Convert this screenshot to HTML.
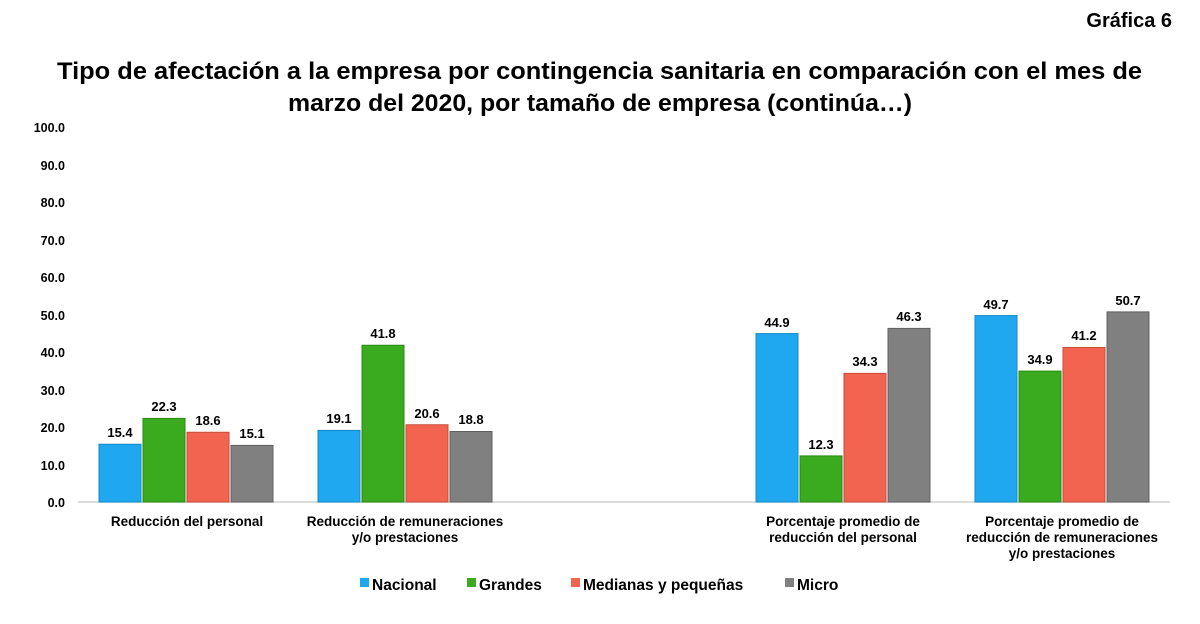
<!DOCTYPE html>
<html><head><meta charset="utf-8"><style>
body{margin:0;background:#fff;}
svg text{font-family:"Liberation Sans",Arial,sans-serif;font-weight:bold;fill:#000;}
.n{fill:#1fa8f0;stroke:#1488c8}.g{fill:#3aaa1e;stroke:#2a8a12}.m{fill:#f26450;stroke:#c84a38}.c{fill:#808080;stroke:#606060}
</style></head><body>
<svg width="1200" height="619" xmlns="http://www.w3.org/2000/svg">
<text x="1172" y="27" font-size="20" text-anchor="end">Gráfica 6</text>
<text x="57" y="79" font-size="24" textLength="1085" lengthAdjust="spacingAndGlyphs">Tipo de afectación a la empresa por contingencia sanitaria en comparación con el mes de</text>
<text x="288" y="111" font-size="24" textLength="624" lengthAdjust="spacingAndGlyphs">marzo del 2020, por tamaño de empresa (continúa…)</text>
<g font-size="12.5" text-anchor="end">
<text x="65" y="132">100.0</text><text x="65" y="170">90.0</text><text x="65" y="207">80.0</text>
<text x="65" y="245">70.0</text><text x="65" y="282">60.0</text><text x="65" y="320">50.0</text>
<text x="65" y="357">40.0</text><text x="65" y="395">30.0</text><text x="65" y="432">20.0</text>
<text x="65" y="470">10.0</text><text x="65" y="507">0.0</text>
</g>
<line x1="78" y1="502" x2="1170" y2="502" stroke="#d0d0d0" stroke-width="1.5"/>
<g stroke-width="1">
<rect class="n" x="99" y="444.25" width="42" height="57.75"/>
<rect class="g" x="143" y="418.4" width="42" height="83.6"/>
<rect class="m" x="187" y="432.25" width="42" height="69.75"/>
<rect class="c" x="231" y="445.4" width="42" height="56.6"/>
<rect class="n" x="318" y="430.4" width="42" height="71.6"/>
<rect class="g" x="362" y="345.25" width="42" height="156.75"/>
<rect class="m" x="406" y="424.75" width="42" height="77.25"/>
<rect class="c" x="450" y="431.5" width="42" height="70.5"/>
<rect class="n" x="756" y="333.6" width="42" height="168.4"/>
<rect class="g" x="800" y="455.9" width="42" height="46.1"/>
<rect class="m" x="844" y="373.4" width="42" height="128.6"/>
<rect class="c" x="888" y="328.4" width="42" height="173.6"/>
<rect class="n" x="975" y="315.6" width="42" height="186.4"/>
<rect class="g" x="1019" y="371.1" width="42" height="130.9"/>
<rect class="m" x="1063" y="347.5" width="42" height="154.5"/>
<rect class="c" x="1107" y="311.9" width="42" height="190.1"/>
</g>
<g font-size="13" text-anchor="middle">
<text x="120" y="437">15.4</text><text x="164" y="411">22.3</text><text x="208" y="425">18.6</text><text x="252" y="438">15.1</text>
<text x="339" y="423">19.1</text><text x="383" y="338">41.8</text><text x="427" y="418">20.6</text><text x="471" y="424">18.8</text>
<text x="777" y="327">44.9</text><text x="821" y="449">12.3</text><text x="865" y="366">34.3</text><text x="909" y="321">46.3</text>
<text x="996" y="309">49.7</text><text x="1040" y="364">34.9</text><text x="1084" y="340">41.2</text><text x="1128" y="305">50.7</text>
</g>
<g font-size="13.5" text-anchor="middle">
<text x="187" y="526">Reducción del personal</text>
<text x="405" y="526">Reducción de remuneraciones</text><text x="405" y="542">y/o prestaciones</text>
<text x="843" y="526">Porcentaje promedio de</text><text x="843" y="542">reducción del personal</text>
<text x="1062" y="526">Porcentaje promedio de</text><text x="1062" y="542">reducción de remuneraciones</text><text x="1062" y="558">y/o prestaciones</text>
</g>
<g font-size="15.5">
<rect x="360" y="578" width="9" height="9" fill="#1fa8f0"/><text x="372" y="590">Nacional</text>
<rect x="467" y="578" width="9" height="9" fill="#3aaa1e"/><text x="479" y="590">Grandes</text>
<rect x="571" y="578" width="9" height="9" fill="#f26450"/><text x="583" y="590">Medianas y pequeñas</text>
<rect x="785" y="578" width="9" height="9" fill="#808080"/><text x="797" y="590">Micro</text>
</g>
</svg>
</body></html>
